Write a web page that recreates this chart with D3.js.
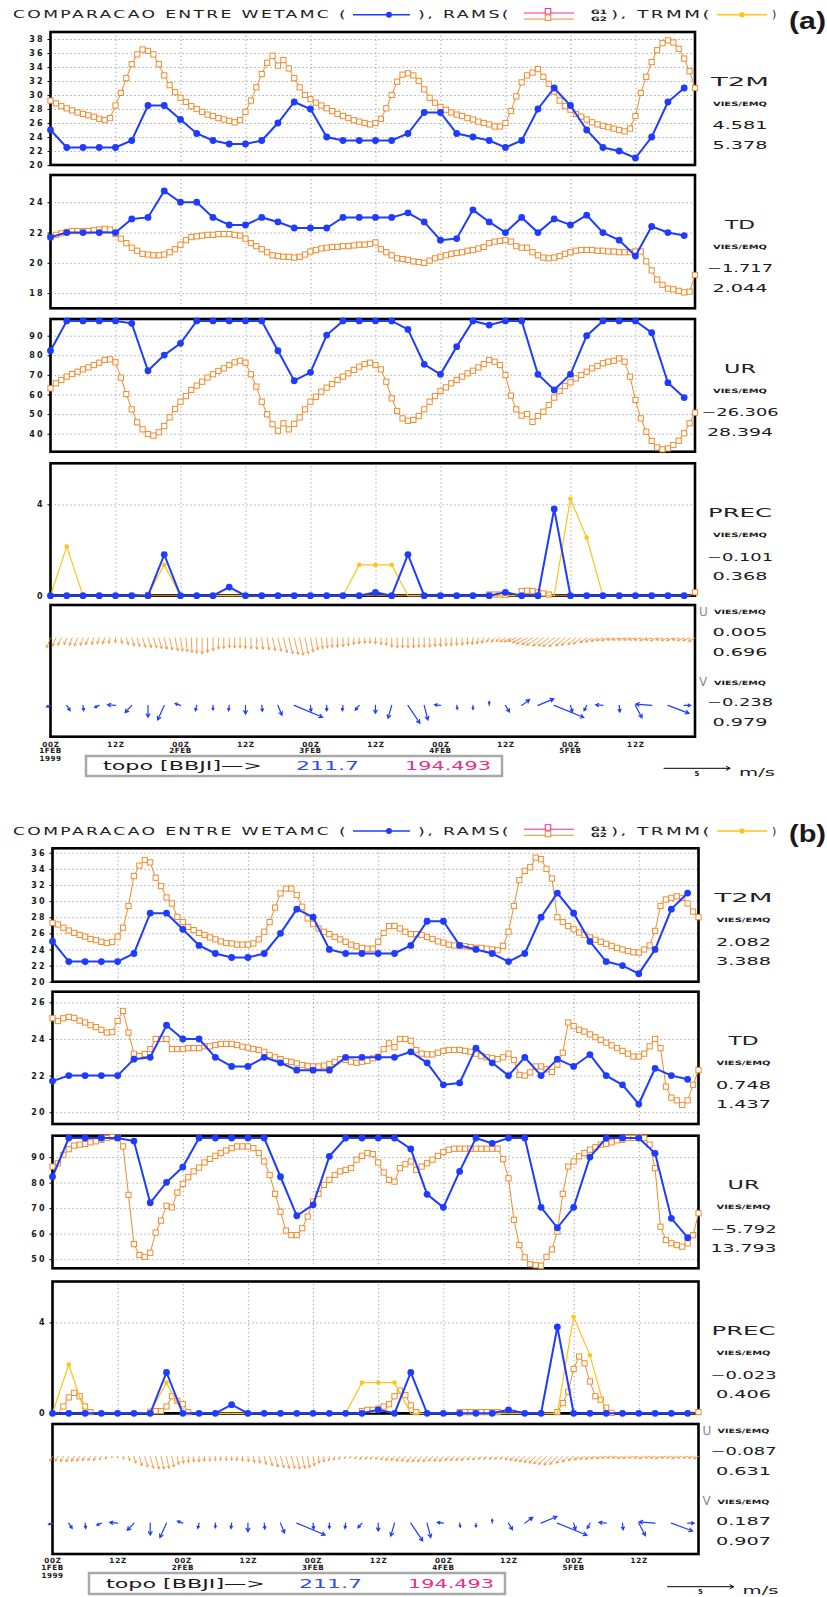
<!DOCTYPE html>
<html><head><meta charset="utf-8">
<script src="https://cdn.jsdelivr.net/npm/d3@7"></script>
<style>body{margin:0;background:#fff}svg{display:block}</style>
</head><body>
<svg id="c" width="827" height="1597"></svg>
<script>
// ---------------- DATA ----------------
const obsHours = d3.range(0, 120, 3);   // WETAMC / TRMM (3-hourly)
const ramsHours = d3.range(0, 120);     // RAMS (hourly)
const gridHours = [12,24,36,48,60,72,84,96,108];
const xTickHours = [0,12,24,36,48,60,72,84,96,108];
const xTickTime = ["00Z","12Z","00Z","12Z","00Z","12Z","00Z","12Z","00Z","12Z"];
const xTickDay  = ["1FEB","","2FEB","","3FEB","","4FEB","","5FEB",""];
const varNames = ["T2M","TD","UR","PREC"];

// WETAMC (observed, identical in both figures)
const wetT2M = [25,22.5,22.5,22.5,22.5,23.5,28.5,28.5,26.5,24.5,23.5,23,23,23.5,26,29,28,24,23.5,23.5,23.5,23.5,24.5,27.5,27.5,24.5,24,23.5,22.5,23.5,28,31,28.5,25,22.5,22,21,24,29,31];
const wetTD = [21.7,22,22,22,22,22.9,23,24.75,24,24,23,22.5,22.5,23,22.7,22.3,22.3,22.3,23,23,23,23,23.3,22.7,21.5,21.6,23.5,22.7,22,23,22,22.9,22.5,23.15,22,21.5,20.45,22.4,22,21.8];
const wetUR = [82.3,97.5,97.5,97.5,97.5,96.3,72.1,80.1,86.1,97.5,97.5,97.5,97.5,97.5,82.3,67,71.3,90.3,97.5,97.5,97.5,97.5,93.2,75.4,70.3,84.4,97.5,95.4,97.5,97.5,70.3,62.3,70.3,90,97.5,97.5,97.5,91.5,66,58.4];
const wetPREC = [0,0,0,0,0,0,0,1.8,0,0,0,0.38,0,0,0,0,0,0,0,0,0.15,0,1.8,0,0,0,0,0,0.15,0,0,3.8,0,0,0,0,0,0,0,0];
const trmmPREC = [0,2.15,0,0,0,0,0.05,1.35,0,0,0,0,0,0,0,0,0,0,0,1.35,1.35,1.35,0,0,0,0,0,0,0,0,0,0,4.25,2.55,0,0,0,0,0,0];
const obsWindU = [-0.3,0.25,0.05,-0.35,-0.6,-0.5,0,-0.5,-0.4,-0.1,0,-0.05,0,0.05,0.3,2.15,0.05,0,-0.05,-0.3,0,-0.28,0.9,0.28,-0.45,0.05,0,0,0.3,0.6,1.2,2.24,0.15,-0.2,-0.55,0.05,0.5,-1.2,1.6,0.5];
const obsWindV = [-0.1,-0.4,-0.4,-0.15,0.05,-0.55,-0.9,-1.1,0.15,-0.4,-0.35,-0.4,-0.65,-0.45,-0.75,-0.9,-0.45,-0.4,-0.4,-0.35,-0.6,-0.98,-1.35,-1.1,0.05,-0.3,-0.3,0.3,-0.5,0.44,0.5,-0.92,-0.5,-0.4,0.05,-0.5,-0.95,0.1,-0.6,0];

// RAMS G2 - figure (a)
const ramsA_T2M = [29.2,28.8,28.4,28.1,27.8,27.5,27.3,27.1,26.9,26.6,26.4,26.7,
28.5,30.3,32.4,34.4,35.8,36.5,36.3,35.8,34.4,32.8,31.4,30.4,
29.6,29.0,28.4,28.0,27.6,27.2,27.0,26.7,26.5,26.3,26.1,26.4,
27.6,29.2,31.1,33.0,34.6,35.6,34.2,35.0,33.8,32.4,31.1,30.0,
29.4,28.9,28.5,28.1,27.7,27.3,27.0,26.7,26.4,26.2,26.0,25.8,
26.0,26.6,28.1,30.0,31.9,32.9,33.1,32.8,32.0,30.8,29.6,28.9,
28.3,27.9,27.5,27.2,27.0,26.7,26.5,26.2,26.0,25.8,25.5,25.5,
26.0,27.7,29.8,31.8,32.8,33.2,33.7,32.6,31.6,30.5,29.2,28.4,
27.9,27.3,26.9,26.5,26.1,25.8,25.6,25.4,25.2,25.0,24.8,25.2,
27.0,30.3,32.6,34.7,36.4,37.4,37.8,37.5,36.6,35.2,33.4,31.0];
const ramsA_TD = [21.7,21.85,21.95,22.05,22.1,22.1,22.1,22.1,22.15,22.2,22.25,22.2,
21.9,21.6,21.3,21.0,20.8,20.6,20.55,20.5,20.5,20.55,20.7,20.9,
21.2,21.5,21.7,21.75,21.8,21.85,21.85,21.9,21.9,21.9,21.85,21.8,
21.6,21.3,21.1,20.9,20.7,20.5,20.45,20.4,20.4,20.35,20.4,20.55,
20.75,20.85,20.95,21.0,21.05,21.05,21.1,21.1,21.15,21.2,21.2,21.25,
21.35,20.9,20.7,20.5,20.3,20.25,20.2,20.1,20.05,20.0,20.15,20.3,
20.4,20.5,20.6,20.65,20.7,20.8,20.85,20.95,21.05,21.3,21.4,21.45,
21.5,21.4,21.1,21.0,21.0,20.7,20.5,20.35,20.3,20.35,20.45,20.6,
20.7,20.8,20.85,20.85,20.85,20.8,20.8,20.75,20.75,20.7,20.7,20.7,
20.75,20.75,20.1,19.5,18.9,18.55,18.3,18.25,18.15,18.05,18.1,19.2];
const ramsA_UR = [63.1,65.7,67.4,69.1,70.4,71.6,72.8,73.8,75.0,76.2,77.6,77.9,
76.4,68.6,60.2,52.4,45.8,42.2,39.8,39.0,40.7,43.9,48.3,52.6,
56.3,59.2,62.3,64.5,66.5,68.6,70.3,72.0,73.3,75.0,76.4,77.2,
76.2,70.3,64.0,56.3,49.9,44.8,41.5,45.3,42.2,45.0,48.3,52.4,
56.3,58.8,61.4,63.5,65.3,67.4,69.1,70.8,72.5,74.2,75.5,76.2,
75.0,72.8,66.5,58.0,51.6,47.8,46.6,47.0,49.0,52.4,56.3,59.2,
61.8,63.6,65.7,67.4,69.1,70.8,72.1,73.8,75.5,77.6,76.7,75.0,
69.9,59.4,52.4,49.2,50.0,46.0,49.0,51.2,54.6,58.4,61.8,64.3,
66.2,68.2,69.9,71.6,73.3,74.5,75.9,76.7,77.2,78.4,76.7,69.1,
57.2,47.8,41.0,36.3,33.0,32.0,32.5,34.2,36.4,40.2,45.3,50.7];
const ramsA_PREC = [0,0,0,0,0,0,0,0,0,0,0,0,
0,0,0,0,0,0,0.03,0,0,0,0,0,
0,0,0,0,0,0,0,0,0,0,0,0,
0,0,0,0,0,0,0,0,0,0,0,0,
0,0,0,0,0,0,0,0,0,0,0,0,
0,0,0,0,0,0,0,0,0,0,0,0,
0,0,0,0,0,0,0,0,0,0.05,0.05,0.05,
0.03,0,0,0.2,0.22,0.2,0.15,0.1,0.05,0,0,0,
0,0,0,0,0,0,0,0,0,0,0,0,
0,0,0,0,0,0,0,0,0,0,0,0.15];
const ramsA_windU = [-0.3,-0.25,-0.25,-0.2,-0.2,-0.25,-0.2,-0.2,-0.15,-0.15,-0.15,-0.1,
0,0.1,0.15,0.2,0.2,0.22,0.25,0.25,0.22,0.2,0.2,0.2,
0.15,0.1,0.05,0,0,0,0.02,0,0,0.02,0,0,
0,0.02,0.05,0.1,0.15,0.2,0.25,0.28,0.3,0.3,0.28,0.25,
0.2,0.15,0.1,0.05,0,0,0.02,0,0,0,0.02,0,
0,0.02,0,0,0.02,0,0,0.02,0,0,0.02,0,
0,0.02,0,0,0.02,0,-0.05,-0.1,-0.15,-0.2,-0.25,-0.3,
-0.4,-0.5,-0.6,-0.7,-0.8,-0.8,-0.85,-0.8,-0.8,-0.85,-0.8,-0.7,
-0.7,-0.6,-0.6,-0.5,-0.5,-0.48,-0.5,-0.5,-0.48,-0.5,-0.5,-0.48,
-0.5,-0.5,-0.48,-0.5,-0.5,-0.48,-0.5,-0.5,-0.48,-0.5,-0.5,-0.48];
const ramsA_windV = [-0.75,-0.6,-0.55,-0.5,-0.55,-0.6,-0.55,-0.5,-0.5,-0.45,-0.45,-0.4,
-0.35,-0.4,-0.5,-0.6,-0.65,-0.7,-0.72,-0.75,-0.8,-0.85,-0.9,-0.95,
-1.0,-1.05,-1.1,-1.15,-1.2,-1.1,-0.95,-0.85,-0.8,-0.75,-0.75,-0.75,
-0.8,-0.8,-0.85,-0.85,-0.9,-0.95,-1.0,-1.1,-1.2,-1.25,-1.3,-1.2,
-1.05,-0.9,-0.8,-0.75,-0.7,-0.7,-0.65,-0.6,-0.5,-0.45,-0.4,-0.4,
-0.45,-0.5,-0.55,-0.7,-0.75,-0.75,-0.75,-0.75,-0.7,-0.7,-0.7,-0.65,
-0.65,-0.6,-0.6,-0.55,-0.55,-0.5,-0.5,-0.45,-0.4,-0.3,-0.3,-0.25,
-0.3,-0.3,-0.25,-0.35,-0.45,-0.5,-0.55,-0.6,-0.6,-0.65,-0.65,-0.6,
-0.55,-0.5,-0.45,-0.35,-0.3,-0.25,-0.2,-0.2,-0.15,-0.15,-0.15,-0.15,
-0.15,-0.15,-0.2,-0.15,-0.2,-0.15,-0.2,-0.2,-0.15,-0.2,-0.2,-0.25];

// RAMS G2 - figure (b)
const ramsB_T2M = [27.3,27.1,26.7,26.35,26.05,25.8,25.6,25.3,25.15,24.95,24.8,24.95,
25.6,26.7,29.4,33.1,34.4,35.1,34.8,32.9,31.85,30.45,29.7,28.05,
27.4,26.8,26.4,26.05,25.8,25.5,25.25,25.0,24.8,24.75,24.6,24.6,
24.6,24.75,25.25,26.2,27.4,29.2,30.95,31.55,31.55,30.75,29.3,27.85,
27.15,26.6,26.2,25.9,25.55,25.25,24.95,24.6,24.4,24.2,24.1,24.1,
24.95,26.05,26.9,26.9,26.6,26.2,25.9,25.9,25.8,25.55,25.3,25.0,
24.85,24.6,24.5,24.5,24.4,24.3,24.2,24.2,24.1,24.0,23.9,24.45,
26.2,29.4,32.6,33.75,34.2,35.4,35.2,34.0,32.8,28.0,27.4,26.9,
26.5,26.1,25.8,25.5,25.2,24.95,24.7,24.45,24.2,24.0,23.8,23.65,
23.6,24.0,24.5,26.3,29.4,30.2,30.4,30.6,30.4,29.7,28.7,28.0];
const ramsB_TD = [25.13,24.98,25.13,25.2,25.15,25.0,24.9,24.75,24.65,24.5,24.35,24.38,
24.98,25.53,24.35,23.2,23.07,23.18,23.45,24.0,24.0,24.0,23.45,23.45,
23.45,23.5,23.5,23.5,23.6,23.6,23.67,23.73,23.73,23.73,23.67,23.58,
23.53,23.45,23.4,23.3,23.13,23.0,22.9,22.8,22.75,22.67,22.58,22.53,
22.5,22.5,22.55,22.64,22.75,22.9,22.86,22.76,22.7,22.76,22.8,22.94,
23.04,23.45,23.76,23.55,24.0,24.0,23.9,23.4,23.2,23.16,23.16,23.25,
23.35,23.4,23.4,23.4,23.35,23.3,23.2,23.07,23.0,22.95,22.9,23.0,
23.2,22.85,22.04,22.0,22.18,22.5,22.5,22.35,22.2,22.6,23.25,24.9,
24.7,24.5,24.4,24.25,24.1,23.95,23.8,23.65,23.5,23.35,23.2,23.04,
23.04,23.2,23.6,24.0,23.5,21.4,20.8,20.65,20.4,20.65,21.5,22.3];
const ramsB_UR = [86.3,87.6,90.9,93.1,94.5,94.9,95.2,95.8,96.2,96.8,97.5,97.9,
97.5,94.2,75.2,55.9,51.6,50.9,52.5,60.4,65.1,70.9,70.3,76.1,
79.5,82.1,84.4,85.9,87.9,89.3,90.5,91.6,92.6,93.5,94.2,94.2,
94.2,93.5,91.6,88.3,83.0,75.6,68.6,61.2,59.4,59.4,62.1,66.7,
72.6,75.6,79.1,81.1,83.0,84.4,85.0,85.7,89.0,90.5,91.6,91.2,
87.9,84.0,81.1,80.4,85.7,87.2,88.3,85.0,86.3,87.6,89.0,90.5,
92.0,92.9,93.3,93.3,93.3,93.3,93.3,93.3,93.3,93.3,93.3,89.2,
81.7,65.4,55.5,50.7,48.0,47.6,47.4,50.9,53.8,60.8,75.6,86.3,
88.3,90.3,91.6,92.9,93.9,94.9,95.2,95.8,96.6,96.8,97.5,97.5,
97.9,97.5,94.9,85.7,62.7,57.5,56.2,55.5,54.9,56.2,59.4,68.0];
const ramsB_PREC = [0,0,0.3,0.7,0.9,0.75,0.3,0.05,0,0,0,0,
0,0,0,0,0,0,0.07,0.1,0.1,0.3,0.75,0.55,
0.4,0.05,0,0,0,0,0,0,0,0,0,0,
0,0,0,0,0,0,0,0,0,0,0,0,
0,0,0,0,0,0,0,0,0,0.1,0.15,0.15,
0.2,0.3,0.4,0.75,1.0,0.8,0.35,0.05,0,0,0,0,
0,0,0,0.05,0.05,0.05,0.05,0.05,0.05,0.05,0.05,0,
0,0,0,0,0,0,0,0,0,0.05,0.45,0.95,
1.95,2.5,2.2,1.4,0.75,0.6,0.25,0.02,0,0,0,0,
0,0,0,0,0,0,0,0,0,0,0,0.05];
const ramsB_windU = [-0.2,-0.2,-0.22,-0.2,-0.2,-0.22,-0.2,-0.2,-0.18,-0.15,-0.1,-0.05,
0,0.05,0.1,0.15,0.2,0.22,0.25,0.25,0.22,0.2,0.15,0.1,
0.05,0.02,0,0,-0.02,0,0,-0.02,0,0,-0.02,0,
0.05,0.08,0.1,0.15,0.2,0.22,0.25,0.25,0.25,0.22,0.2,0.15,
0.1,0.05,0,-0.05,-0.08,-0.1,-0.1,-0.1,-0.12,-0.15,-0.15,-0.18,
-0.2,-0.22,-0.25,-0.25,-0.28,-0.28,-0.3,-0.3,-0.3,-0.3,-0.3,-0.3,
-0.3,-0.28,-0.28,-0.28,-0.28,-0.25,-0.25,-0.22,-0.22,-0.22,-0.22,-0.22,
-0.25,-0.3,-0.35,-0.4,-0.45,-0.5,-0.55,-0.6,-0.6,-0.58,-0.5,-0.45,
-0.4,-0.38,-0.35,-0.35,-0.35,-0.35,-0.35,-0.35,-0.35,-0.38,-0.38,-0.35,
-0.35,-0.38,-0.35,-0.35,-0.38,-0.35,-0.35,-0.38,-0.35,-0.35,-0.35,-0.38];
const ramsB_windV = [-0.35,-0.35,-0.4,-0.4,-0.35,-0.35,-0.3,-0.3,-0.3,-0.25,-0.2,-0.1,
-0.1,-0.2,-0.3,-0.5,-0.7,-0.8,-0.9,-0.95,-0.95,-0.9,-0.8,-0.6,
-0.5,-0.45,-0.4,-0.4,-0.35,-0.35,-0.3,-0.3,-0.3,-0.3,-0.3,-0.35,
-0.4,-0.45,-0.5,-0.6,-0.7,-0.8,-0.85,-0.9,-0.9,-0.95,-0.9,-0.85,
-0.7,-0.5,-0.4,-0.3,-0.25,-0.2,-0.15,-0.1,-0.15,-0.2,-0.2,-0.2,
-0.2,-0.25,-0.3,-0.3,-0.35,-0.35,-0.4,-0.4,-0.4,-0.4,-0.35,-0.35,
-0.35,-0.3,-0.3,-0.3,-0.3,-0.25,-0.25,-0.2,-0.2,-0.2,-0.2,-0.2,
-0.25,-0.3,-0.35,-0.4,-0.45,-0.5,-0.55,-0.6,-0.65,-0.6,-0.5,-0.4,
-0.3,-0.25,-0.2,-0.2,-0.15,-0.15,-0.1,-0.1,-0.1,-0.15,-0.15,-0.1,
-0.1,-0.15,-0.1,-0.1,-0.15,-0.1,-0.1,-0.15,-0.1,-0.1,-0.1,-0.15];

// statistics text (VIES / EMQ)
const statsA = [["4.581","5.378"],["−1.717","2.044"],["−26.306","28.394"],["−0.101","0.368"]];
const windStatsA = [["0.005","0.696"],["−0.238","0.979"]];
const statsB = [["2.082","3.388"],["0.748","1.437"],["−5.792","13.793"],["−0.023","0.406"]];
const windStatsB = [["−0.087","0.631"],["0.187","0.907"]];
const topoLabel = "topo [BBJI]—>";
const topoValues = ["211.7","194.493"];

// ---------------- LAYOUT / STYLE ----------------
const C = {blue:"#1e3cff", orange:"#f28a2c", yellow:"#ffc31a", pink:"#ee2a88", grid:"#8d8d8d", ink:"#1a1a1a"};
const FONT = "DejaVu Sans, Verdana, sans-serif";
const figs = [
 {x0:50.5, x1:695, head:18.3, tag:"(a)", tagY:29,
  rows:[[32,165],[175,308.3],[319,451.7],[463.3,595.7]], wind:[605,736.7],
  dom:[[20,39],[17,25.8],[30.8,98.5],[0,5.8]],
  ticks:[[20,22,24,26,28,30,32,34,36,38],[18,20,22,24],[40,50,60,70,80,90],[0,4]],
  rams:[ramsA_T2M, ramsA_TD, ramsA_UR, ramsA_PREC], ramsWind:[ramsA_windU, ramsA_windV],
  stats:statsA, windStats:windStatsA, xlab:[746.7,752.7,760.7], topo:[86,502,756,776], legY:768.3},
 {x0:52.5, x1:698.5, head:834.5, tag:"(b)", tagY:842,
  rows:[[848.3,981.7],[991.7,1124],[1135.7,1268.3],[1281.5,1413.3]], wind:[1424,1554],
  dom:[[20,36.55],[19.36,26.58],[46.4,98.4],[0,5.8]],
  ticks:[[20,22,24,26,28,30,32,34,36],[20,22,24,26],[50,60,70,80,90],[0,4]],
  rams:[ramsB_T2M, ramsB_TD, ramsB_UR, ramsB_PREC], ramsWind:[ramsB_windU, ramsB_windV],
  stats:statsB, windStats:windStatsB, xlab:[1563.3,1570,1578.3], topo:[89,505,1573,1594], legY:1586.7}
];
const nameW = {T2M:58, TD:30, UR:32, PREC:64};
const obsSeries = [wetT2M, wetTD, wetUR, wetPREC];
const vScale = d3.scaleLinear().domain([0,5]).range([0,66]);

const svg = d3.select("#c");
svg.append("rect").attr("width",827).attr("height",1597).attr("fill","#fff");

function txt(g, s, x, y, o={}) {
  const t = g.append("text").attr("x",x).attr("y",y).text(s)
    .attr("font-family", o.family||FONT).attr("font-size", o.size||10)
    .attr("fill", o.fill||C.ink).attr("font-weight", o.weight||"normal");
  if (o.anchor) t.attr("text-anchor", o.anchor);
  if (o.w) t.attr("textLength", o.w).attr("lengthAdjust", o.adjust||"spacingAndGlyphs");
  if (o.ls) t.attr("letter-spacing", o.ls);
  return t;
}
function arrow(g, x0, y0, dx, dy, color, sw, head) {
  const len = Math.hypot(dx, dy); if (len < 0.6) return;
  const x1 = x0+dx, y1 = y0+dy, a = Math.atan2(dy, dx), h = Math.min(head, len*0.45);
  const p = `M${x0},${y0}L${x1},${y1}M${x1-h*Math.cos(a-0.5)},${y1-h*Math.sin(a-0.5)}L${x1},${y1}L${x1-h*Math.cos(a+0.5)},${y1-h*Math.sin(a+0.5)}`;
  g.append("path").attr("d",p).attr("fill","none").attr("stroke",color).attr("stroke-width",sw).attr("stroke-linecap","round");
}
function square(g, cx, cy, s, color) {
  g.append("rect").attr("x",cx-s/2).attr("y",cy-s/2).attr("width",s).attr("height",s)
   .attr("fill","#fff").attr("stroke",color).attr("stroke-width",1);
}

function header(g, yb) {
  const H = {size:11, ls:1.5, adjust:"spacingAndGlyphs", fill:"#222"};
  txt(g,"COMPARACAO ENTRE WETAMC (",13,yb,{...H,w:335});
  g.append("line").attr("x1",353).attr("x2",410).attr("y1",yb-3.6).attr("y2",yb-3.6).attr("stroke",C.blue).attr("stroke-width",1.5);
  g.append("circle").attr("cx",389).attr("cy",yb-3.6).attr("r",3).attr("fill",C.blue);
  txt(g,"), RAMS(",418,yb,{...H,w:93});
  g.append("line").attr("x1",524).attr("x2",574).attr("y1",yb-5.3).attr("y2",yb-5.3).attr("stroke",C.pink).attr("stroke-width",1);
  square(g,548,yb-7,5.5,C.pink);
  g.append("line").attr("x1",524).attr("x2",574).attr("y1",yb+0.8).attr("y2",yb+0.8).attr("stroke",C.orange).attr("stroke-width",1);
  square(g,548,yb-0.5,5.5,C.orange);
  txt(g,"G1",591,yb-4,{size:6,w:16,weight:"bold"});
  txt(g,"G2",591,yb+2.4,{size:6,w:16,weight:"bold"});
  txt(g,"), TRMM(",611,yb,{...H,w:101});
  g.append("line").attr("x1",717).attr("x2",767).attr("y1",yb-3.6).attr("y2",yb-3.6).attr("stroke",C.yellow).attr("stroke-width",1.5);
  g.append("circle").attr("cx",742).attr("cy",yb-3.6).attr("r",2.6).attr("fill",C.yellow);
  txt(g,")",772,yb,{size:11, fill:"#222"});
}

figs.forEach(F => {
  const g = svg.append("g");
  const x = d3.scaleLinear().domain([0,119]).range([F.x0, F.x1]);
  header(g, F.head);
  txt(g, F.tag, 789, F.tagY, {size:23, weight:"bold", family:"Liberation Sans, Arial, sans-serif", w:37});

  F.rows.forEach(([top,bottom], i) => {
    const y = d3.scaleLinear().domain(F.dom[i]).range([bottom, top]);
    const isPrec = i === 3;
    const gridVals = isPrec ? [4] : F.ticks[i];
    g.append("g").attr("transform",`translate(${F.x0},0)`)
      .call(d3.axisLeft(y).tickValues(gridVals).tickSize(-(F.x1-F.x0)).tickFormat(""))
      .call(s => { s.select(".domain").remove(); s.selectAll("line").attr("stroke",C.grid).attr("stroke-width",0.9).attr("stroke-dasharray","1.2,2.8"); });
    g.append("g").attr("transform",`translate(0,${bottom})`)
      .call(d3.axisBottom(x).tickValues(gridHours).tickSize(-(bottom-top)).tickFormat(""))
      .call(s => { s.select(".domain").remove(); s.selectAll("line").attr("stroke",C.grid).attr("stroke-width",0.9).attr("stroke-dasharray","1.2,2.8"); });
    g.append("g").attr("transform",`translate(${F.x0},0)`)
      .call(d3.axisLeft(y).tickValues(F.ticks[i]).tickSize(3).tickPadding(3).tickFormat(d3.format("d")))
      .call(s => { s.select(".domain").remove(); s.selectAll("line").attr("stroke","#000");
        s.selectAll("text").attr("font-family",FONT).attr("font-size",8).attr("font-weight","bold").attr("letter-spacing",2).attr("fill",C.ink); });
    g.append("rect").attr("x",F.x0).attr("y",top).attr("width",F.x1-F.x0).attr("height",bottom-top)
      .attr("fill","none").attr("stroke","#000").attr("stroke-width",2.6);

    if (isPrec) {
      g.append("line").attr("x1",F.x0).attr("x2",F.x1).attr("y1",y(0)).attr("y2",y(0)).attr("stroke","#000").attr("stroke-width",2.6);
    }
    const rams = ramsHours.map((h,k)=>({h, v:F.rams[i][k]}));
    g.append("path").datum(rams).attr("fill","none").attr("stroke",C.orange).attr("stroke-width",1)
      .attr("d", d3.line().x(d=>x(d.h)).y(d=>y(d.v)));
    rams.filter(d => !isPrec || d.v > 0).forEach(d => square(g, x(d.h), y(d.v), 5.2, C.orange));
    if (isPrec) {
      const tr = obsHours.map((h,k)=>({h, v:trmmPREC[k]}));
      g.append("path").datum(tr).attr("fill","none").attr("stroke",C.yellow).attr("stroke-width",1.2)
        .attr("d", d3.line().x(d=>x(d.h)).y(d=>y(d.v)));
      g.selectAll(null).data(tr.filter(d=>d.v>0)).enter().append("circle")
        .attr("cx",d=>x(d.h)).attr("cy",d=>y(d.v)).attr("r",2.3).attr("fill",C.yellow);
    }
    const ob = obsHours.map((h,k)=>({h, v:obsSeries[i][k]}));
    g.append("path").datum(ob).attr("fill","none").attr("stroke",C.blue).attr("stroke-width",2)
      .attr("d", d3.line().x(d=>x(d.h)).y(d=>y(d.v)));
    g.selectAll(null).data(ob).enter().append("circle")
      .attr("cx",d=>x(d.h)).attr("cy",d=>y(d.v)).attr("r",3.4).attr("fill",C.blue);

    const cx = F.x1 + 45;
    txt(g, varNames[i], cx - nameW[varNames[i]]/2, top+53.5, {size:13, w:nameW[varNames[i]], fill:"#222"});
    txt(g, "VIES/EMQ", cx - 27, top+73.7, {size:6, weight:"bold", w:54});
    F.stats[i].forEach((s,k) => {
      const w = s.length*11;
      txt(g, s, cx - w/2, top + (k ? 116.5 : 97.3), {size:10, w});
    });
  });

  // wind panel
  const [wt, wb] = F.wind;
  const wy = d3.scaleLinear().domain([0,4]).range([wb, wt]);
  g.append("rect").attr("x",F.x0).attr("y",wt).attr("width",F.x1-F.x0).attr("height",wb-wt)
    .attr("fill","none").attr("stroke","#000").attr("stroke-width",2.6);
  ramsHours.forEach((h,k) => arrow(g, x(h), wy(3), vScale(F.ramsWind[0][k]), -vScale(F.ramsWind[1][k]), C.orange, 0.8, 2.5));
  obsHours.forEach((h,k) => arrow(g, x(h), wy(0.95), vScale(obsWindU[k]), -vScale(obsWindV[k]), C.blue, 1.2, 3.8));
  const cx = F.x1 + 45;
  [["U",0],["V",1]].forEach(([c,k]) => {
    const base = wt + (k ? 81 : 10.5);
    txt(g, c, F.x1+4, base, {size:12, fill:"#888"});
    txt(g, "VIES/EMQ", F.x1+19, base-1.5, {size:6, weight:"bold", w:52});
    F.windStats[k].forEach((s,j) => {
      const w = s.length*11;
      txt(g, s, cx - w/2, wt + (k ? 101 : 30.5) + j*20.3, {size:10, w});
    });
  });

  // x-axis labels
  const ax = g.append("g").attr("transform",`translate(0,${F.xlab[0]})`)
    .call(d3.axisBottom(x).tickValues(xTickHours).tickSize(0).tickPadding(0).tickFormat((d,k)=>xTickTime[k]));
  ax.select(".domain").remove();
  ax.selectAll("text").attr("dy",0).attr("y",0).attr("font-family",FONT).attr("font-size",7.2).attr("font-weight","bold").attr("letter-spacing",0.8).attr("fill",C.ink);
  xTickHours.forEach((h,k) => {
    if (xTickDay[k]) txt(g, xTickDay[k], x(h), F.xlab[1], {size:7.2, weight:"bold", anchor:"middle", ls:0.5});
  });
  txt(g, "1999", x(0), F.xlab[2], {size:7.2, weight:"bold", anchor:"middle", ls:0.5});

  // topo box
  const [tx0,tx1,ty0,ty1] = F.topo;
  g.append("rect").attr("x",tx0).attr("y",ty0).attr("width",tx1-tx0).attr("height",ty1-ty0)
    .attr("fill","#fff").attr("stroke","#a8a8a8").attr("stroke-width",2.5);
  const tb = ty1 - 6;
  txt(g, topoLabel, tx0+17, tb, {size:11.5, w:159});
  txt(g, topoValues[0], tx0+210, tb, {size:11.5, w:63, fill:"#2a4cff"});
  txt(g, topoValues[1], tx0+319, tb, {size:11.5, w:86, fill:C.pink});

  // vector legend
  const lx = F.x1 - 31;
  arrow(g, lx, F.legY, vScale(5), 0, "#000", 1, 4);
  txt(g, "5", lx+33, F.legY+7.5, {size:7, weight:"bold", anchor:"middle"});
  txt(g, "m/s", lx+75, F.legY+7.5, {size:11, w:36});
});
</script>
</body></html>
